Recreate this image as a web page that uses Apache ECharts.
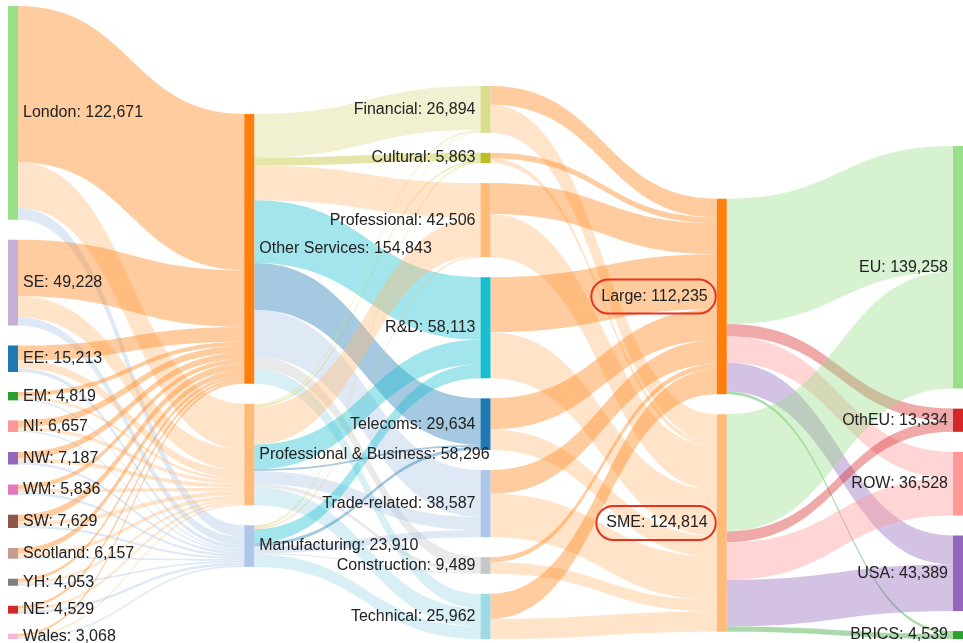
<!DOCTYPE html>
<html><head><meta charset="utf-8">
<script src="https://cdn.jsdelivr.net/npm/echarts@6/dist/echarts.min.js"></script>
<style>html,body{margin:0;padding:0;background:#fff}#c{width:963px;height:643px}</style>
</head><body><div id="c"></div>
<script>
// ---- data ----
const regions = ['London','SE','EE','EM','NI','NW','WM','SW','Scotland','YH','NE','Wales'];
const regionTotals = [122671,49228,15213,4819,6657,7187,5836,7629,6157,4053,4529,3068];
const regionColors = ['#98df8a','#c5b0d5','#1f77b4','#2ca02c','#ff9896','#9467bd','#e377c2','#8c564b','#c49c94','#7f7f7f','#d62728','#f7b6d2'];

const groups = ['Other Services','Professional & Business','Manufacturing'];
const groupTotals = [154843,58296,23910];
const groupColors = ['#ff7f0e','#ffbb78','#aec7e8'];

const sectors = ['Financial','Cultural','Professional','R&D','Telecoms','Trade-related','Construction','Technical'];
const sectorTotals = [26894,5863,42506,58113,29634,38587,9489,25962];
const sectorColors = ['#dbdb8d','#bcbd22','#ffbb78','#17becf','#1f77b4','#aec7e8','#c7c7c7','#9edae5'];

const sizes = ['Large','SME'];
const sizeTotals = [112235,124814];
const sizeColors = ['#ff7f0e','#ffbb78'];

const markets = ['EU','OthEU','ROW','USA','BRICS'];
const marketTotals = [139258,13334,36528,43389,4539];
const marketColors = ['#98df8a','#d62728','#ff9896','#9467bd','#2ca02c'];

// region -> [Other Services, Professional & Business, Manufacturing]
const regionToGroup = [
  [89743,26196,6732],
  [32500,12000,4728],
  [8500,4500,2213],
  [2500,1500,819],
  [3800,2000,857],
  [3600,2200,1387],
  [2600,1800,1436],
  [3900,2500,1229],
  [3200,2000,957],
  [1700,1300,1053],
  [1600,1400,1529],
  [1200,900,968]
];
// group -> sectors
const groupToSector = [
  [25100,4500,20000,36000,26800,27000,7000,8443],
  [1100,800,21600,14100,1000,7500,1800,10396],
  [694,563,906,8013,1834,4087,689,7124]
];
// sector -> [Large, SME]
const sectorToSize = [
  [10800,16094],
  [3300,2563],
  [17800,24706],
  [31600,26513],
  [17800,11834],
  [13700,24887],
  [2900,6589],
  [14335,11627]
];
// size -> markets
const sizeToMarket = [
  [72000,7000,15000,16700,1535],
  [67258,6334,21528,26689,3004]
];

// ---- build ----
const fontFamily = '"Liberation Sans", Arial, Helvetica, sans-serif';
const NODE_GAP = 20;
const nodes = [];
const totals = {};
function addNodes(names, vals, colors, pos, extra) {
  names.forEach((n, i) => {
    totals[n] = vals[i];
    const node = {name: n, itemStyle: {color: colors[i], opacity: 1}, label: {position: pos}};
    if (extra) Object.assign(node.label, extra);
    nodes.push(node);
  });
}
addNodes(regions, regionTotals, regionColors, 'right');
addNodes(groups, groupTotals, groupColors, 'right');
addNodes(sectors, sectorTotals, sectorColors, 'left');
addNodes(sizes, sizeTotals, sizeColors, 'left', {
  borderColor: '#e8321e', borderWidth: 2, borderRadius: 18,
  padding: [9, 8, 9, 10], distance: 1
});
addNodes(markets, marketTotals, marketColors, 'left');

const links = [];
function addLinks(src, tgt, m) {
  src.forEach((s, i) => tgt.forEach((t, j) => {
    if (m[i][j] > 0) links.push({source: s, target: t, value: m[i][j]});
  }));
}
addLinks(regions, groups, regionToGroup);
addLinks(groups, sectors, groupToSector);
addLinks(sectors, sizes, sectorToSize);
addLinks(sizes, markets, sizeToMarket);

function makeOption(iterations) {
  return {
    animation: false,
    series: [{
      type: 'sankey',
      left: 8, right: 0, top: 6, bottom: 4,
      nodeWidth: 10,
      nodeGap: NODE_GAP,
      layoutIterations: iterations,
      nodeAlign: 'justify',
      draggable: false,
      emphasis: {disabled: true},
      lineStyle: {color: 'target', opacity: 0.4, curveness: 0.5},
      label: {
        color: '#222', fontSize: 16, fontFamily: fontFamily,
        formatter: p => p.name + ': ' + totals[p.name].toLocaleString('en-US')
      },
      data: nodes.map(n => Object.assign({}, n)),
      links: links
    }]
  };
}

const chart = echarts.init(document.getElementById('c'), null, {renderer: 'canvas'});
// pass 1: let ECharts relax the columns to find each column's vertical extent
chart.setOption(makeOption(32));
try {
  const s = chart.getModel().getSeriesByIndex(0);
  const d = s.getData();
  const H = s.layoutInfo.height;
  const idx = {};
  nodes.forEach((n, i) => { idx[n.name] = i; });
  [regions, groups, sectors, sizes, markets].forEach(col => {
    const lays = col.map(n => d.getItemLayout(idx[n]));
    let y = Math.min.apply(null, lays.map(l => l.y));
    // keep the original (data) order inside each column
    col.forEach((n, k) => {
      nodes[idx[n]].localY = y / H;
      y += lays[k].dy + NODE_GAP;
    });
  });
} catch (e) { console.error(e); }
// pass 2: data order kept, columns placed where the relaxed layout put them
chart.setOption(makeOption(0), true);
</script>
</body></html>
